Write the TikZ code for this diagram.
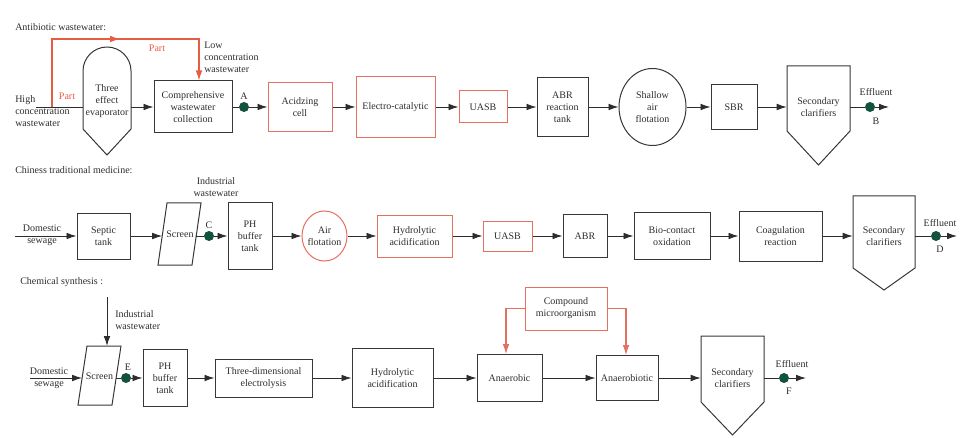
\documentclass[tikz,border=0pt]{standalone}
\usepackage{fontspec}
\setmainfont{Liberation Serif}
\usetikzlibrary{arrows.meta,shapes.geometric,calc}
\definecolor{ink}{RGB}{45,45,45}
\definecolor{boxc}{RGB}{55,55,55}
\definecolor{redl}{RGB}{232,92,66}
\definecolor{redb}{RGB}{228,112,98}
\definecolor{dotc}{RGB}{18,82,62}
\tikzset{
 every node/.style={font=\fontsize{7.5}{9}\selectfont, text=ink},
 box/.style 2 args={draw=boxc, line width=0.75pt, align=center, inner sep=1pt, minimum width=#1*0.75pt, minimum height=#2*0.75pt},
 rbox/.style 2 args={box={#1}{#2}, draw=redb},
 oval/.style 2 args={ellipse, draw=boxc, line width=0.75pt, inner sep=0pt, minimum width=#1*0.75pt, minimum height=#2*0.75pt},
 lbl/.style={align=center, inner sep=0pt},
 lleft/.style={align=left, inner sep=0pt, anchor=west},
 flow/.style={draw=ink, line width=0.7pt, -{Latex[length=7.5pt,width=5pt]}},
 plain/.style={draw=ink, line width=0.7pt},
 rflow/.style={draw=redl, line width=0.8pt, -{Latex[length=7.5pt,width=5pt]}},
 dotn/.style={circle, fill=dotc, minimum size=7.5pt, inner sep=0pt},
 outline/.style={draw=boxc, line width=0.75pt},
 redtext/.style={text=redl, inner sep=0pt},
}
\begin{document}
\begin{tikzpicture}[x=0.75pt,y=-0.75pt]
\useasboundingbox (0,0) rectangle (969,438);

% ================= Row 1: Antibiotic wastewater =================
\node[lleft] (t1) at (15,27) {Antibiotic wastewater:};
\node[lleft] (hi) at (15,111) {High\\concentration\\wastewater};
\node[lleft] (low) at (204,57) {Low\\concentration\\wastewater};

% evaporator
\draw[outline] (83,129) -- (83,71) arc[start angle=180,end angle=0,radius=18pt] -- (131,129) -- (107,155) -- cycle;
\node[lbl] (evap) at (107,101) {Three\\effect\\evaporator};
\coordinate (evl) at (83,107);
\coordinate (evr) at (131,107);
\coordinate (hs) at (36,107);

\node[box={78}{52}] (comp) at (193,107) {Comprehensive\\wastewater\\collection};
\node[dotn] (dA) at (244,107) {};
\node[lbl] (lA) at (244,96) {A};
\node[rbox={64}{49}] (acid) at (300,107) {Acidzing\\cell};
\node[rbox={79}{61}] (elec) at (395.5,107) {Electro-catalytic};
\node[rbox={48}{32}] (uasb1) at (483,107) {UASB};
\node[box={51}{59}] (abr1) at (562.5,107) {ABR\\reaction\\tank};
\node[oval={67}{77}] (shal) at (652.5,107) {};
\node[lbl] (shalt) at (shal) {Shallow\\air\\flotation};
\node[box={46}{45}] (sbr) at (734,107) {SBR};
% clarifier 1
\draw[outline] (787,66) -- (850,66) -- (850,131) -- (818.5,165) -- (787,131) -- cycle;
\node[lbl, minimum width=63*0.75pt] (clar1) at (818.5,107) {Secondary\\clarifiers};
\node[dotn] (dB) at (870,107) {};
\node[lbl] (eff1) at (876,92) {Effluent};
\node[lbl] (lB) at (876,121) {B};
\coordinate (eB) at (889,107);

% red bypass
\coordinate (r1) at (52,107);
\coordinate (r2) at (52,39);
\coordinate (r3) at (199,39);
\coordinate (rm) at (120,39);
\draw[rflow] (r1) -- (r2) -- (r3) -- (r3 |- comp.north);
\draw[rflow] (r2) -- (rm);
\node[redtext] (p1) at (67,96) {Part};
\node[redtext] (p2) at (157,48) {Part};

% row 1 connectors
\draw[plain] (hs) -- (evl);
\draw[flow] (evr) -- (comp.west);
\draw[plain] (comp.east) -- (dA);
\draw[flow] (dA) -- (acid.west);
\draw[flow] (acid.east) -- (elec.west);
\draw[flow] (elec.east) -- (uasb1.west);
\draw[flow] (uasb1.east) -- (abr1.west);
\draw[flow] (abr1.east) -- (shal.west);
\draw[flow] (shal.east) -- (sbr.west);
\draw[flow] (sbr.east) -- (clar1.west);
\draw[plain] (clar1.east) -- (dB);
\draw[flow] (dB) -- (eB);

% ================= Row 2: Chiness traditional medicine =================
\node[lleft] (t2) at (15,170) {Chiness traditional medicine:};
\coordinate (ds2) at (15,236);
\node[lbl] (dom2) at (42,235) {Domestic\\sewage};
\node[box={53}{46}] (septic) at (103.5,236) {Septic\\tank};
\draw[outline] (167,203) -- (201,203) -- (192,265) -- (158,265) -- cycle;
\node[lbl] (scr2) at (180,234) {Screen};
\coordinate (scr2w) at (162.2,236);
\coordinate (scr2e) at (196.4,236);
\node[dotn] (dC) at (209,236) {};
\node[lbl] (lC) at (209,225) {C};
\node[lbl] (ind2) at (216,187) {Industrial\\wastewater};
\node[box={44}{66}] (ph2) at (250,236) {PH\\buffer\\tank};
\node[oval={45}{50}, draw=redb] (air) at (324.5,236) {};
\node[lbl] (airt) at (air) {Air\\flotation};
\node[rbox={75}{42}] (hyd2) at (414.5,236) {Hydrolytic\\acidification};
\node[rbox={49}{30}] (uasb2) at (507.5,236) {UASB};
\node[box={44}{43}] (abr2) at (585,236) {ABR};
\node[box={76}{47}] (bio) at (672,236) {Bio-contact\\oxidation};
\node[box={83}{50}] (coag) at (780.5,236) {Coagulation\\reaction};
\draw[outline] (853,196) -- (915,196) -- (915,268) -- (884,290) -- (853,268) -- cycle;
\node[lbl, minimum width=62*0.75pt] (clar2) at (884,236) {Secondary\\clarifiers};
\node[dotn] (dD) at (936,236) {};
\node[lbl] (eff2) at (940,223) {Effluent};
\node[lbl] (lD) at (940,249) {D};
\coordinate (eD) at (957,236);

\draw[flow] (ds2) -- (septic.west);
\draw[flow] (septic.east) -- (scr2w);
\draw[plain] (scr2e) -- (dC);
\draw[flow] (dC) -- (ph2.west);
\draw[flow] (ph2.east) -- (air.west);
\draw[flow] (air.east) -- (hyd2.west);
\draw[flow] (hyd2.east) -- (uasb2.west);
\draw[flow] (uasb2.east) -- (abr2.west);
\draw[flow] (abr2.east) -- (bio.west);
\draw[flow] (bio.east) -- (coag.west);
\draw[flow] (coag.east) -- (clar2.west);
\draw[plain] (clar2.east) -- (dD);
\draw[flow] (dD) -- (eD);

% ================= Row 3: Chemical synthesis =================
\node[lleft] (t3) at (20,282) {Chemical synthesis :};
\coordinate (ds3) at (30,378);
\node[lbl] (dom3) at (49,378) {Domestic\\sewage};
\draw[outline] (87,346) -- (121,346) -- (112,405) -- (78,405) -- cycle;
\node[lbl] (scr3) at (99.5,376) {Screen};
\coordinate (scr3w) at (82.1,378);
\coordinate (scr3e) at (116.1,378);
\coordinate (scr3t) at (107,346);
\coordinate (i3) at (107,297);
\node[lleft] (ind3) at (115,320) {Industrial\\wastewater};
\node[dotn] (dE) at (126,378) {};
\node[lbl] (lE) at (128,367) {E};
\node[box={44}{57}] (ph3) at (165,378) {PH\\buffer\\tank};
\node[box={97}{38}] (elec3) at (263.5,378) {Three-dimensional\\electrolysis};
\node[box={81}{59}] (hyd3) at (392.5,378) {Hydrolytic\\acidification};
\node[box={65}{47}] (anaer) at (509.5,378) {Anaerobic};
\node[box={62}{45}] (anaerb) at (627,378) {Anaerobiotic};
\node[rbox={82}{43}] (cmo) at (566,308.5) {Compound\\microorganism};
\draw[outline] (701,336) -- (764,336) -- (764,402) -- (732.5,435) -- (701,402) -- cycle;
\node[lbl, minimum width=63*0.75pt] (clar3) at (732.5,378) {Secondary\\clarifiers};
\node[dotn] (dF) at (784,378) {};
\node[lbl] (eff3) at (792,364) {Effluent};
\node[lbl] (lF) at (789,391) {F};
\coordinate (eF) at (806,378);
\coordinate (cl) at (506,308.5);
\coordinate (cr) at (626,308.5);

\draw[flow] (i3) -- (scr3t);
\draw[flow] (ds3) -- (scr3w);
\draw[plain] (scr3e) -- (dE);
\draw[flow] (dE) -- (ph3.west);
\draw[flow] (ph3.east) -- (elec3.west);
\draw[flow] (elec3.east) -- (hyd3.west);
\draw[flow] (hyd3.east) -- (anaer.west);
\draw[flow] (anaer.east) -- (anaerb.west);
\draw[flow] (anaerb.east) -- (clar3.west);
\draw[plain] (clar3.east) -- (dF);
\draw[flow] (dF) -- (eF);
\draw[rflow, draw=redb] (cmo.west) -- (cl) -- (cl |- anaer.north);
\draw[rflow, draw=redb] (cmo.east) -- (cr) -- (cr |- anaerb.north);
\end{tikzpicture}
\end{document}
